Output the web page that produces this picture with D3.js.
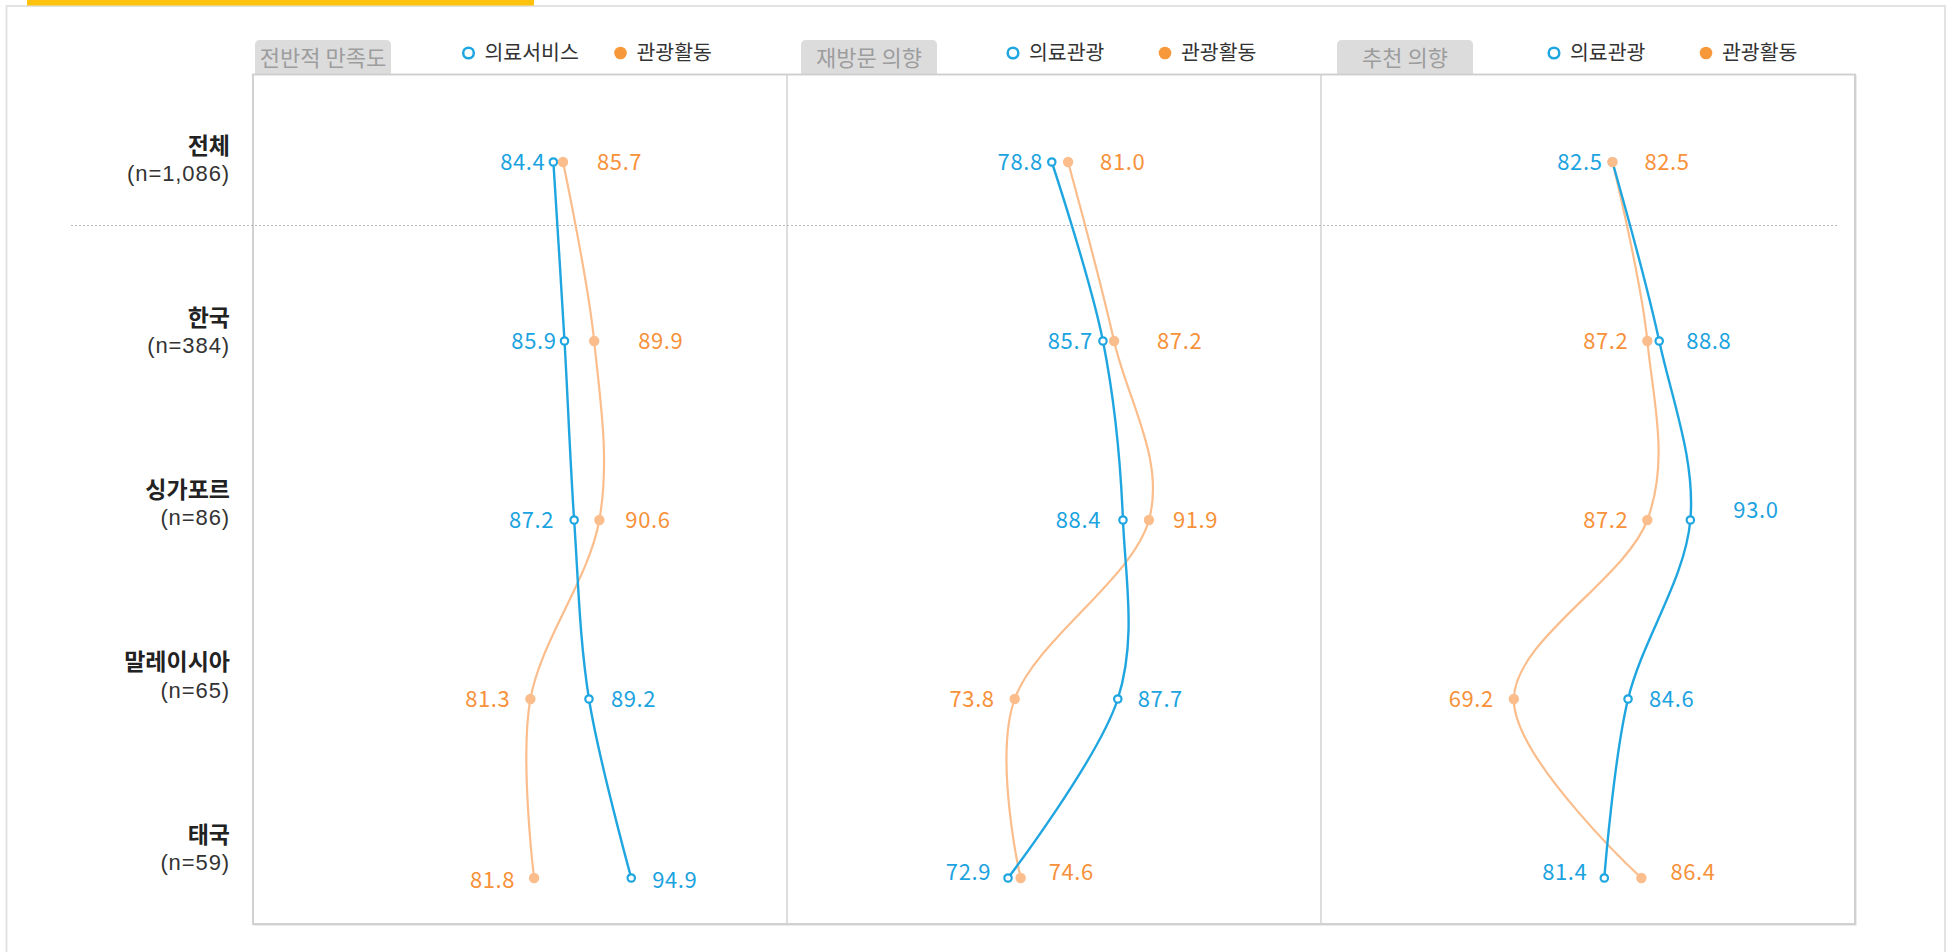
<!DOCTYPE html>
<html><head><meta charset="utf-8">
<script src="https://cdn.jsdelivr.net/npm/d3@7"></script>
<style>
html,body{margin:0;padding:0;background:#fff;overflow:hidden;}
svg{display:block;font-family:"Noto Sans CJK KR","Noto Sans",sans-serif;}
</style></head><body>
<svg id="chart" width="1946" height="952"></svg>
<script>
// ---------- data ----------
const categories = ["전체","한국","싱가포르","말레이시아","태국"];
const sampleSizes = ["(n=1,086)","(n=384)","(n=86)","(n=65)","(n=59)"];
const panelTitles = ["전반적 만족도","재방문 의향","추천 의향"];
const medicalNames = ["의료서비스","의료관광","의료관광"];
const tourismNames = ["관광활동","관광활동","관광활동"];
const medicalValues = [
  [84.4, 85.9, 87.2, 89.2, 94.9],
  [78.8, 85.7, 88.4, 87.7, 72.9],
  [82.5, 88.8, 93.0, 84.6, 81.4]
];
const tourismValues = [
  [85.7, 89.9, 90.6, 81.3, 81.8],
  [81.0, 87.2, 91.9, 73.8, 74.6],
  [82.5, 87.2, 87.2, 69.2, 86.4]
];
const xDomains = [[43.9, 115.9], [43.1, 115.1], [43.2, 115.2]];

// label nudges [dx, dy] (layout only)
const medicalNudge = [
  [[12,0],[12,0],[0,0],[1,0],[0,2]],
  [[11,0],[10,0],[-2,0],[-1,0],[3,-6]],
  [[10,0],[6,0],[22,-10],[0,0],[3,-6]]
];
const tourismNudge = [
  [[13,0],[23,0],[5,0],[0,0],[1,2]],
  [[11,0],[22,0],[3,0],[0,0],[7,-6]],
  [[11,0],[1,0],[1,0],[0,0],[8,-6]]
];

// ---------- layout ----------
const C = {
  blue: "#1fa6e0", blueText: "#1ba3df",
  orange: "#fbbd8b", orangeText: "#f7913a", orangeLegend: "#f7983a",
  border: "#cdcdcd", tab: "#dcdcdd", tabText: "#9d9d9d"
};
const plot = {left: 253, right: 1855, top: 74.5, bottom: 924};
const nP = 3;
const pw = (plot.right - plot.left) / nP;
const tabOffset = [2, 14, 16];
const legendOffset = [215.5, 226, 233];

const svg = d3.select("#chart");

svg.append("rect").attr("x", 6.5).attr("y", 6).attr("width", 1938.5).attr("height", 960)
  .attr("fill", "#fff").attr("stroke", "#e3e3e3").attr("stroke-width", 2);
svg.append("rect").attr("x", 27).attr("y", 0).attr("width", 507).attr("height", 5.5).attr("fill", "#ffc20e");

const y = d3.scalePoint().domain(categories).range([162, 878]);
const yLabel = d3.scalePoint().domain(categories).range([159.5, 848.5]);

// row labels
const rowG = svg.append("g");
categories.forEach((c, i) => {
  rowG.append("text").attr("x", 230).attr("y", yLabel(c) - 14).attr("dy", "0.35em")
    .attr("text-anchor", "end").attr("font-size", 23).attr("font-weight", "bold")
    .attr("fill", "#222").text(c);
  rowG.append("text").attr("x", 230).attr("y", yLabel(c) + 13.5).attr("dy", "0.36em")
    .attr("text-anchor", "end").attr("font-family", "'Liberation Sans', Arial, sans-serif")
    .attr("font-size", 22).attr("letter-spacing", 0.9)
    .attr("fill", "#333").text(sampleSizes[i]);
});

// tabs
panelTitles.forEach((t, p) => {
  const x0 = plot.left + p * pw + tabOffset[p], w = 136, yt = 40, h = 36, r = 5;
  svg.append("path")
    .attr("d", `M${x0},${yt + h} V${yt + r} Q${x0},${yt} ${x0 + r},${yt} H${x0 + w - r} Q${x0 + w},${yt} ${x0 + w},${yt + r} V${yt + h} Z`)
    .attr("fill", C.tab);
  svg.append("text").attr("x", x0 + w / 2).attr("y", 58.5).attr("dy", "0.35em")
    .attr("text-anchor", "middle").attr("font-size", 22).attr("fill", C.tabText).text(t);
});

// plot frame
svg.append("rect").attr("x", plot.left + 1).attr("y", plot.top + 1)
  .attr("width", plot.right - plot.left).attr("height", plot.bottom - plot.top)
  .attr("fill", "none").attr("stroke", "#e6e6e6").attr("stroke-width", 1.5);
svg.append("rect").attr("x", plot.left).attr("y", plot.top)
  .attr("width", plot.right - plot.left).attr("height", plot.bottom - plot.top)
  .attr("fill", "#fff").attr("stroke", C.border).attr("stroke-width", 1.8);
for (let p = 1; p < nP; p++) {
  const xd = plot.left + p * pw;
  svg.append("line").attr("x1", xd).attr("x2", xd).attr("y1", plot.top).attr("y2", plot.bottom)
    .attr("stroke", "#d2d2d2").attr("stroke-width", 1.5);
}

// dotted separator
const sepY = (y(categories[0]) + y(categories[1])) / 2 - 26;
svg.append("line").attr("x1", 71).attr("x2", 1838).attr("y1", sepY).attr("y2", sepY)
  .attr("stroke", "#b8b8b8").attr("stroke-width", 1.2).attr("stroke-dasharray", "2,2");

// panels
for (let p = 0; p < nP; p++) {
  const x0 = plot.left + p * pw;
  const x = d3.scaleLinear().domain(xDomains[p]).range([x0, x0 + pw]);
  const g = svg.append("g");

  // legend
  const lx = x0 + legendOffset[p];
  g.append("circle").attr("cx", lx).attr("cy", 53).attr("r", 5.3)
    .attr("fill", "#fff").attr("stroke", C.blue).attr("stroke-width", 2.5);
  g.append("text").attr("x", lx + 16).attr("y", 52.5).attr("dy", "0.35em")
    .attr("font-size", 20.5).attr("fill", "#333").text(medicalNames[p]);
  g.append("circle").attr("cx", lx + 152).attr("cy", 53).attr("r", 6.3)
    .attr("fill", C.orangeLegend);
  g.append("text").attr("x", lx + 168).attr("y", 52.5).attr("dy", "0.35em")
    .attr("font-size", 20.5).attr("fill", "#333").text(tourismNames[p]);

  const med = categories.map((c, i) => ({c, v: medicalValues[p][i], i}));
  const tour = categories.map((c, i) => ({c, v: tourismValues[p][i], i}));
  const line = d3.line().x(d => x(d.v)).y(d => y(d.c)).curve(d3.curveCardinal.tension(0));

  g.append("path").attr("d", line(tour)).attr("fill", "none")
    .attr("stroke", C.orange).attr("stroke-width", 2.2);
  g.append("path").attr("d", line(med)).attr("fill", "none")
    .attr("stroke", C.blue).attr("stroke-width", 2.4);

  g.selectAll(".mm").data(med).join("circle")
    .attr("cx", d => x(d.v)).attr("cy", d => y(d.c)).attr("r", 3.7)
    .attr("fill", "#fff").attr("stroke", C.blue).attr("stroke-width", 2.2);
  g.selectAll(".tm").data(tour).join("circle")
    .attr("cx", d => x(d.v)).attr("cy", d => y(d.c)).attr("r", 5.2)
    .attr("fill", C.orange);

  // labels
  categories.forEach((c, i) => {
    const mv = medicalValues[p][i], tv = tourismValues[p][i];
    const medLeft = mv <= tv;
    const items = [
      {v: mv, left: medLeft, col: C.blueText, n: medicalNudge[p][i]},
      {v: tv, left: !medLeft, col: C.orangeText, n: tourismNudge[p][i]}
    ];
    items.forEach(it => {
      const px = x(it.v);
      g.append("text")
        .attr("x", (it.left ? px - 20 : px + 21) + it.n[0])
        .attr("y", y(c) + it.n[1]).attr("dy", "0.35em")
        .attr("text-anchor", it.left ? "end" : "start")
        .attr("font-size", 22).attr("letter-spacing", 0.6).attr("fill", it.col)
        .text(d3.format(".1f")(it.v));
    });
  });
}
</script>
</body></html>
